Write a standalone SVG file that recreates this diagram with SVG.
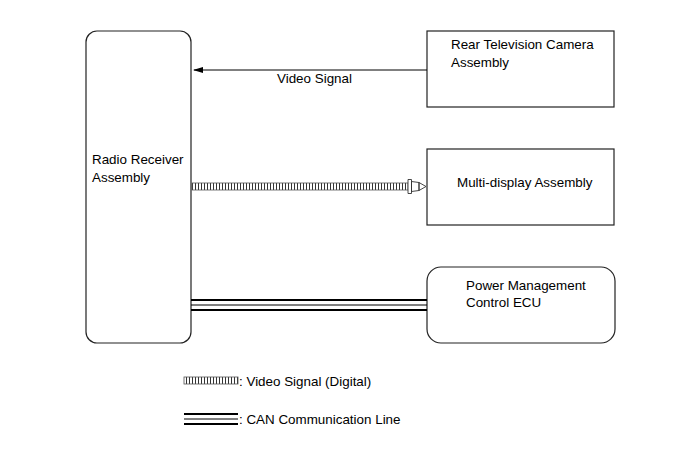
<svg xmlns="http://www.w3.org/2000/svg" width="691" height="467" viewBox="0 0 691 467">
<style>
.box{fill:#fff;stroke:#222;stroke-width:1.2}
.t{font-family:"Liberation Sans",Arial,sans-serif;font-size:13.4px;fill:#000}
.ln{stroke:#000;fill:none}
.hb{fill:url(#hatch);stroke:#555;stroke-width:0.8}
</style>
<defs>
<pattern id="hatch" x="0" y="0" width="3" height="8" patternUnits="userSpaceOnUse">
<rect width="3" height="8" fill="#fff"/>
<rect x="0" y="0" width="1" height="8" fill="#333"/>
</pattern>
</defs>
<g id="radio"><rect class="box" x="86" y="31" width="105" height="312" rx="11"/><text class="t" x="92" y="164">Radio Receiver</text><text class="t" x="92" y="182">Assembly</text></g>
<g id="camera"><rect class="box" x="427" y="31" width="187" height="76"/><text class="t" x="451" y="49">Rear Television Camera</text><text class="t" x="451" y="67">Assembly</text></g>
<g id="display"><rect class="box" x="427" y="149" width="187" height="76"/><text class="t" x="457" y="187">Multi-display Assembly</text></g>
<g id="ecu"><rect class="box" x="427" y="267" width="188" height="76" rx="14"/><text class="t" x="466" y="290">Power Management</text><text class="t" x="466" y="307">Control ECU</text></g>
<g id="connectors">
<line class="ln" x1="427" y1="70" x2="194" y2="70" stroke-width="1"/>
<path d="M193,70 L203,67 L203,73 Z" fill="#000"/>
<text class="t" x="277" y="83">Video Signal</text>
<rect class="hb" x="192" y="183" width="216" height="7"/>
<path d="M408,179.5 L411.5,179.5 L411.5,193.5 L408,193.5 Z M411.5,181.5 L419,182.5 L419,190.5 L411.5,191.5 Z M419,182.5 L426,186.5 L419,190.5 Z" fill="#fff" stroke="#333" stroke-width="0.9"/>
<line class="ln" x1="191" y1="300" x2="427" y2="300" stroke-width="2.2"/>
<line class="ln" x1="191" y1="305" x2="427" y2="305" stroke-width="1"/>
<line class="ln" x1="191" y1="310" x2="427" y2="310" stroke-width="2.2"/>
</g>
<g id="legend">
<rect class="hb" x="184" y="377" width="54" height="7"/>
<text class="t" x="239" y="386">: Video Signal (Digital)</text>
<line class="ln" x1="184" y1="414" x2="238" y2="414" stroke-width="2.2"/>
<line class="ln" x1="184" y1="419" x2="238" y2="419" stroke-width="1"/>
<line class="ln" x1="184" y1="424" x2="238" y2="424" stroke-width="2.2"/>
<text class="t" x="239" y="424">: CAN Communication Line</text>
</g>
</svg>
